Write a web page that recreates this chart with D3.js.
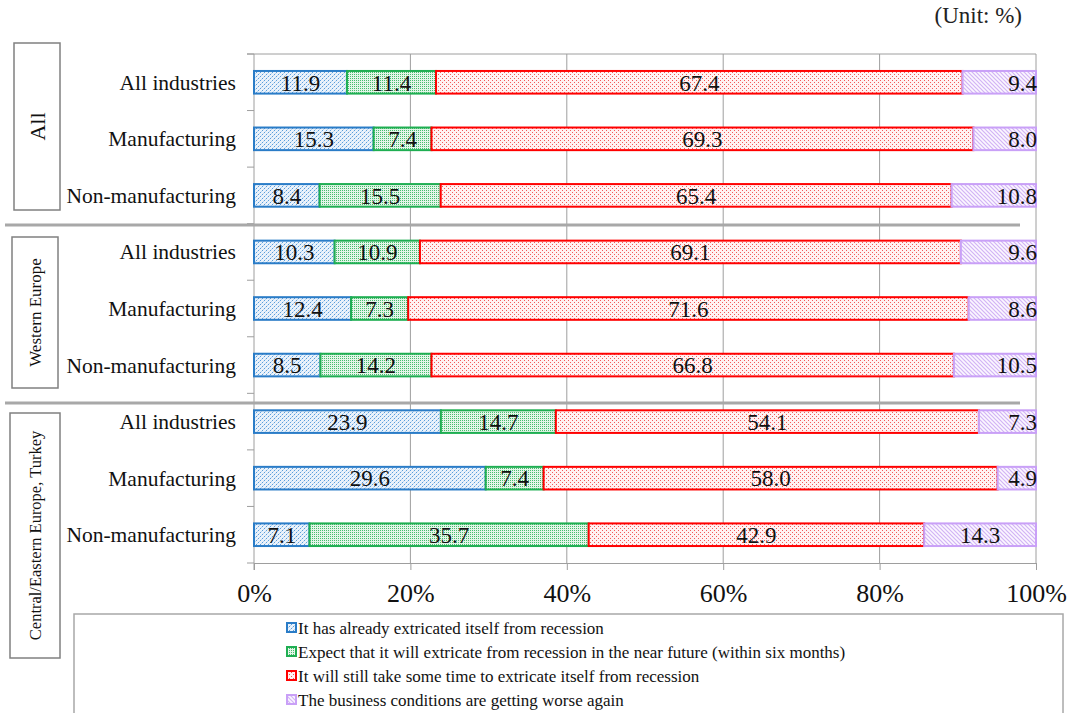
<!DOCTYPE html>
<html>
<head>
<meta charset="utf-8">
<script src="https://cdn.jsdelivr.net/npm/d3@7"></script>
<style>
  html, body { margin: 0; padding: 0; background: #fff; }
  svg { display: block; font-family: "Liberation Serif", "Times New Roman", serif; }
</style>
</head>
<body>
<svg id="chart" width="1070" height="713"></svg>
<script>
// ---------- data ----------
const groups = ["All", "Western Europe", "Central/Eastern Europe, Turkey"];
const categories = ["All industries", "Manufacturing", "Non-manufacturing"];
const seriesNames = [
  "It has already extricated itself from recession",
  "Expect that it will extricate from recession in the near future (within six months)",
  "It will still take some time to extricate itself from recession",
  "The business conditions are getting worse again"
];
// rows: All (3 cats), Western Europe (3 cats), Central/Eastern Europe, Turkey (3 cats)
const alreadyOut = [11.9, 15.3, 8.4, 10.3, 12.4, 8.5, 23.9, 29.6, 7.1];
const nearFuture = [11.4, 7.4, 15.5, 10.9, 7.3, 14.2, 14.7, 7.4, 35.7];
const stillTime  = [67.4, 69.3, 65.4, 69.1, 71.6, 66.8, 54.1, 58.0, 42.9];
const worseAgain = [9.4, 8.0, 10.8, 9.6, 8.6, 10.5, 7.3, 4.9, 14.3];
const xTickValues = [0, 0.2, 0.4, 0.6, 0.8, 1.0];
const unitLabel = "(Unit: %)";

// ---------- styles ----------
const seriesKeys = ["s0", "s1", "s2", "s3"];
const strokeColors = ["#2a7cc7", "#1fae52", "#ff0000", "#c9a0f7"];
const serif = '"Liberation Serif", "Times New Roman", serif';

const rows = [];
groups.forEach((g, gi) => categories.forEach((c, ci) => {
  const i = gi * 3 + ci;
  rows.push({ id: g + "|" + c, group: g, cat: c,
    s0: alreadyOut[i], s1: nearFuture[i], s2: stillTime[i], s3: worseAgain[i] });
}));

const svg = d3.select("#chart");
const defs = svg.append("defs");

// pattern: blue dotted
(function () {
  const p = defs.append("pattern").attr("id", "pat0").attr("width", 4).attr("height", 4)
    .attr("patternUnits", "userSpaceOnUse");
  p.append("rect").attr("width", 4).attr("height", 4).attr("fill", "#eaf2fb");
  [[0, 0], [2, 2], [1, 3], [3, 1]].forEach(([a, b], k) =>
    p.append("rect").attr("x", a).attr("y", b).attr("width", 1).attr("height", 1)
      .attr("fill", k < 2 ? "#5a9edb" : "#bcd6ef"));
})();
// pattern: green dense dots
(function () {
  const p = defs.append("pattern").attr("id", "pat1").attr("width", 2).attr("height", 2)
    .attr("patternUnits", "userSpaceOnUse");
  p.append("rect").attr("width", 2).attr("height", 2).attr("fill", "#e4f5e9");
  p.append("rect").attr("x", 0).attr("y", 0).attr("width", 1).attr("height", 1).attr("fill", "#49bd6e");
})();
// pattern: red sparse dots
(function () {
  const p = defs.append("pattern").attr("id", "pat2").attr("width", 4).attr("height", 4)
    .attr("patternUnits", "userSpaceOnUse");
  p.append("rect").attr("width", 4).attr("height", 4).attr("fill", "#fff2f2");
  [[0, 0], [2, 2]].forEach(([a, b]) =>
    p.append("rect").attr("x", a).attr("y", b).attr("width", 1).attr("height", 1).attr("fill", "#f25a5a"));
})();
// pattern: purple diagonal stripes
(function () {
  const p = defs.append("pattern").attr("id", "pat3").attr("width", 4).attr("height", 4)
    .attr("patternUnits", "userSpaceOnUse");
  p.append("rect").attr("width", 4).attr("height", 4).attr("fill", "#fbf7ff");
  p.append("path").attr("d", "M-1,-1 L5,5 M-1,3 L1,5 M3,-1 L5,1")
    .attr("stroke", "#d2b4f5").attr("stroke-width", 1.2);
})();

// ---------- scales ----------
const plotL = 254, plotR = 1036, plotT = 54, plotB = 563;
const x = d3.scaleLinear().domain([0, 1]).range([plotL, plotR]);
const yBand = d3.scaleBand().domain(rows.map(r => r.id)).range([plotT, plotB])
  .paddingInner(0.6).paddingOuter(0.3);
const yStep = d3.scaleBand().domain(rows.map(r => r.id)).range([plotT, plotB]).padding(0);

const stack = d3.stack().keys(seriesKeys).offset(d3.stackOffsetExpand);
const stacked = stack(rows);

const gridColor = "#9e9e9e";

// gridlines
svg.append("g").selectAll("line").data(xTickValues.filter(v => v > 0)).join("line")
  .attr("x1", d => x(d)).attr("x2", d => x(d))
  .attr("y1", plotT).attr("y2", plotB)
  .attr("stroke", gridColor).attr("stroke-width", 1);
// top border
svg.append("line").attr("x1", plotL - 7).attr("x2", plotR).attr("y1", plotT).attr("y2", plotT)
  .attr("stroke", gridColor).attr("stroke-width", 1);

// bottom axis
const xAxis = d3.axisBottom(x).tickValues(xTickValues).tickFormat(d3.format(".0%"))
  .tickSizeInner(7).tickSizeOuter(0);
const gx = svg.append("g").attr("transform", `translate(0,${plotB})`).call(xAxis);
gx.select(".domain").attr("stroke", gridColor);
gx.selectAll(".tick line").attr("stroke", gridColor);
gx.selectAll(".tick text").attr("font-family", serif).attr("font-size", 26)
  .attr("fill", "#111").attr("dy", 0).attr("y", 39);

// left axis line + ticks at band boundaries
svg.append("line").attr("x1", plotL).attr("x2", plotL).attr("y1", plotT).attr("y2", plotB + 7)
  .attr("stroke", gridColor);
const boundaries = rows.map(r => yStep(r.id)).concat([plotB]);
svg.append("g").selectAll("line").data(boundaries).join("line")
  .attr("x1", plotL - 7).attr("x2", plotL).attr("y1", d => d).attr("y2", d => d)
  .attr("stroke", gridColor);

// category labels
svg.append("g").selectAll("text").data(rows).join("text")
  .attr("x", 236).attr("y", d => yBand(d.id) + yBand.bandwidth() / 2)
  .attr("dy", "0.35em").attr("text-anchor", "end")
  .attr("font-family", serif).attr("font-size", 21.5).attr("fill", "#111")
  .text(d => d.cat);

// bars
const layers = svg.append("g").selectAll("g").data(stacked).join("g")
  .attr("fill", (d, i) => `url(#pat${i})`).attr("stroke", (d, i) => strokeColors[i])
  .attr("stroke-width", 2);
layers.selectAll("rect").data(d => d.map(s => ({ s, key: d.key, row: s.data }))).join("rect")
  .attr("x", d => x(d.s[0])).attr("width", d => x(d.s[1]) - x(d.s[0]))
  .attr("y", d => yBand(d.row.id)).attr("height", yBand.bandwidth());

// value labels
const labelData = [];
stacked.forEach((layer, li) => layer.forEach(s => {
  const v = s.data[layer.key];
  const last = li === stacked.length - 1;
  const rightAlign = last && v < 12;
  labelData.push({
    x: rightAlign ? x(1) + 1 : (x(s[0]) + x(s[1])) / 2,
    anchor: rightAlign ? "end" : "middle",
    y: yBand(s.data.id) + yBand.bandwidth() / 2,
    text: v.toFixed(1)
  });
}));
svg.append("g").selectAll("text").data(labelData).join("text")
  .attr("x", d => d.x).attr("y", d => d.y).attr("dy", "0.36em")
  .attr("text-anchor", d => d.anchor)
  .attr("font-family", serif).attr("font-size", 23).attr("fill", "#111")
  .text(d => d.text);

// group separators
svg.append("g").selectAll("line").data([225, 403]).join("line")
  .attr("x1", 5).attr("x2", 1020).attr("y1", d => d).attr("y2", d => d)
  .attr("stroke", "#a8a8a8").attr("stroke-width", 3);

// group label boxes
const groupBoxes = [
  { x: 14, y: 43, w: 46, h: 167, size: 22 },
  { x: 12, y: 237, w: 46, h: 151, size: 17 },
  { x: 10, y: 413, w: 50, h: 245, size: 16.5 }
];
const gb = svg.append("g").selectAll("g").data(groups).join("g");
gb.append("rect")
  .attr("x", (d, i) => groupBoxes[i].x).attr("y", (d, i) => groupBoxes[i].y)
  .attr("width", (d, i) => groupBoxes[i].w).attr("height", (d, i) => groupBoxes[i].h)
  .attr("fill", "#fff").attr("stroke", "#808080").attr("stroke-width", 1.5);
gb.append("text")
  .attr("transform", (d, i) => {
    const b = groupBoxes[i];
    return `translate(${b.x + b.w / 2},${b.y + b.h / 2}) rotate(-90)`;
  })
  .attr("text-anchor", "middle").attr("dy", "0.35em")
  .attr("font-family", serif).attr("font-size", (d, i) => groupBoxes[i].size).attr("fill", "#111")
  .text(d => d);

// unit label
svg.append("text").attr("x", 1022).attr("y", 23).attr("text-anchor", "end")
  .attr("font-family", serif).attr("font-size", 23).attr("fill", "#222").text(unitLabel);

// legend
svg.append("rect").attr("x", 74).attr("y", 614).attr("width", 989).attr("height", 110)
  .attr("fill", "none").attr("stroke", "#a8a8a8").attr("stroke-width", 1.5);
const lg = svg.append("g").selectAll("g").data(seriesNames).join("g")
  .attr("transform", (d, i) => `translate(287,${628 + i * 24})`);
lg.append("rect").attr("x", 0).attr("y", -5).attr("width", 9).attr("height", 9)
  .attr("fill", (d, i) => `url(#pat${i})`).attr("stroke", (d, i) => strokeColors[i]).attr("stroke-width", 2);
lg.append("text").attr("x", 11).attr("y", 0).attr("dy", "0.35em")
  .attr("font-family", serif).attr("font-size", 17).attr("fill", "#111")
  .text(d => d);
</script>
</body>
</html>
